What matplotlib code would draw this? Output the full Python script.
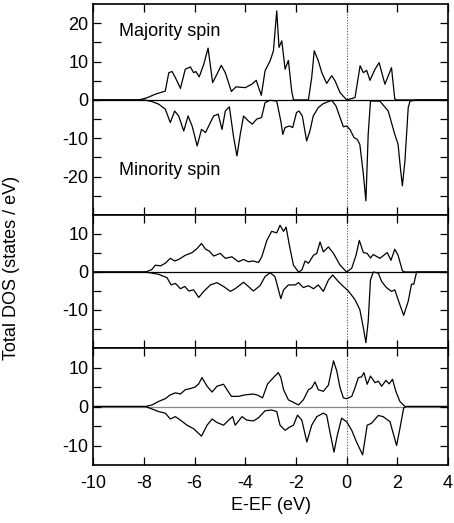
import matplotlib
matplotlib.use("Agg")
import matplotlib.pyplot as plt
from matplotlib.ticker import FixedLocator

plt.rcParams['font.family'] = ['Liberation Sans', 'DejaVu Sans']
plt.rcParams['axes.unicode_minus'] = False

# ---- data (energy E-EF in eV, DOS in states/eV) ----
p1_up_x = [-10, -8.2, -7.9, -7.55, -7.16, -7.02, -6.89, -6.76, -6.56, -6.37, -6.17, -6.04, -5.95, -5.82, -5.64,
           -5.47, -5.29, -5.12, -4.95, -4.79, -4.55, -4.37, -4.0, -3.74, -3.57, -3.37, -3.22, -3.02, -2.89, -2.76,
           -2.67, -2.56, -2.43, -2.3, -2.17, -2.1, -1.51, -1.38, -1.28, -1.12, -0.98, -0.79, -0.59, -0.46, -0.26,
           0, 0.33, 0.53, 0.66, 0.79, 0.92, 1.12, 1.28, 1.51, 1.77, 1.9, 1.97, 4]
p1_up_y = [0, 0, 0.5, 1.5, 2.3, 7.1, 7.4, 5.8, 3.0, 8.0, 8.6, 7.1, 7.4, 6.0, 9.3,
           13.5, 4.5, 6.7, 9.0, 7.1, 2.2, 3.4, 3.2, 4.1, 5.1, 1.2, 7.6, 10.2, 12.8, 23.2,
           13.7, 15.4, 8.0, 10.3, 2.3, 0, 0, 5.8, 12.8, 10.2, 7.1, 4.3, 6.3, 5.0, 1.9,
           0, 0.6, 8.9, 7.1, 7.7, 5.1, 8.0, 9.7, 4.1, 8.4, 0.2, 0, 0]

p1_dn_x = [-10, -8.0, -7.7, -7.42, -7.16, -6.96, -6.79, -6.63, -6.43, -6.26, -6.1, -5.9, -5.73, -5.57, -5.38,
           -5.25, -5.07, -4.92, -4.79, -4.63, -4.46, -4.33, -4.2, -4.07, -3.88, -3.72, -3.55, -3.36, -3.22, -3.02,
           -2.76, -2.6, -2.52, -2.43, -2.26, -2.13, -1.98, -1.88, -1.75, -1.58, -1.45, -1.32, -1.12, -0.93, -0.59,
           -0.42, -0.26, -0.13, 0, 0.13, 0.29, 0.42, 0.52, 0.66, 0.76, 0.85, 0.94, 1.31, 1.64, 1.9,
           2.03, 2.12, 2.2, 2.3, 2.43, 2.5, 2.8, 4]
p1_dn_y = [0, 0, -0.4, -1.1, -2.4, -5.9, -2.9, -4.2, -8.1, -4.2, -6.8, -12.0, -7.7, -8.5, -5.9,
           -4.2, -3.7, -7.7, -2.9, -1.8, -9.8, -14.6, -9.0, -4.2, -5.5, -6.3, -5.0, -4.6, -0.7, -0.1,
           -0.3, -5.5, -9.0, -7.2, -6.8, -7.2, -3.3, -2.9, -4.2, -10.7, -8.1, -4.2, -2.0, -1.0, -0.1,
           -1.6, -4.6, -7.0, -6.8, -7.7, -9.8, -10.3, -11.6, -19.4, -26.3, -9.0, -0.3, -0.3, -2.9, -9.0,
           -11.6, -17.7, -22.4, -15.9, -2.0, -0.3, 0, 0]

p2_up_x = [-10, -7.94, -7.7, -7.55, -7.35, -7.16, -6.96, -6.79, -6.63, -6.37, -6.1, -5.9, -5.73, -5.57, -5.42,
           -5.25, -4.99, -4.79, -4.53, -4.27, -4.07, -3.88, -3.68, -3.48, -3.35, -3.15, -2.96, -2.76, -2.63, -2.49,
           -2.39, -2.26, -2.1, -1.9, -1.77, -1.64, -1.51, -1.31, -1.18, -1.05, -0.92, -0.72, -0.52, -0.26, 0,
           0.2, 0.37, 0.5, 0.66, 0.81, 0.94, 1.05, 1.31, 1.6, 1.75, 1.9, 2.03, 2.2, 2.3, 4]
p2_up_y = [0, 0, 0.6, 1.8, 1.6, 2.3, 3.6, 2.9, 3.3, 4.4, 5.1, 6.2, 7.5, 6.0, 5.5,
           4.2, 4.9, 3.6, 4.0, 2.7, 3.3, 2.7, 2.9, 2.5, 4.0, 8.3, 10.7, 10.3, 12.3, 10.7,
           11.8, 7.0, 1.8, 0, 0.5, 2.9, 2.3, 4.4, 4.9, 7.9, 5.3, 6.6, 4.9, 1.8, 0,
           1.0, 4.4, 8.3, 5.1, 4.9, 3.7, 4.6, 3.6, 5.1, 3.1, 6.0, 4.4, 0.3, 0, 0]

p2_dn_x = [-10, -7.94, -7.42, -7.09, -6.93, -6.76, -6.56, -6.39, -6.23, -6.04, -5.84, -5.64, -5.38, -5.12, -4.86,
           -4.59, -4.4, -4.07, -3.88, -3.68, -3.42, -3.22, -3.02, -2.83, -2.69, -2.6, -2.49, -2.3, -2.03, -1.9,
           -1.71, -1.51, -1.31, -1.12, -0.92, -0.72, -0.55, -0.33, -0.13, 0.07, 0.33, 0.52, 0.66, 0.76, 0.85,
           0.94, 1.05, 1.25, 1.38, 1.57, 1.77, 1.9, 2.1, 2.25, 2.43, 2.56, 2.65, 2.76, 4]
p2_dn_y = [0, 0, -0.6, -1.5, -3.4, -3.0, -4.4, -3.8, -5.0, -4.7, -6.7, -5.1, -3.4, -2.8, -3.8,
           -5.1, -4.4, -2.7, -3.8, -5.0, -3.6, -1.2, -0.2, -1.2, -4.7, -7.0, -4.7, -3.4, -3.4, -2.8,
           -4.1, -3.6, -4.4, -3.4, -5.1, -2.1, -0.8, -2.5, -3.8, -5.0, -7.3, -9.9, -14.7, -18.6, -13.0,
           -2.1, 0, -0.3, -2.5, -4.1, -5.1, -4.7, -8.6, -11.4, -7.7, -3.2, -3.2, 0, 0]

p3_up_x = [-10, -7.94, -7.68, -7.42, -7.16, -6.96, -6.76, -6.56, -6.37, -6.17, -5.98, -5.84, -5.71, -5.51, -5.31,
           -5.12, -4.86, -4.55, -4.27, -4.0, -3.68, -3.51, -3.32, -3.12, -2.89, -2.7, -2.6, -2.49, -2.3, -1.9,
           -1.71, -1.51, -1.38, -1.25, -1.12, -0.92, -0.72, -0.52, -0.39, -0.26, -0.13, 0, 0.2, 0.33, 0.46,
           0.59, 0.68, 0.81, 0.94, 1.12, 1.25, 1.38, 1.55, 1.68, 1.81, 1.94, 2.1, 2.3, 4]
p3_up_y = [0, 0, 0.4, 1.3, 2.0, 3.0, 3.5, 3.2, 4.3, 4.6, 5.0, 5.8, 7.4, 5.2, 3.7,
           5.2, 5.7, 2.6, 2.6, 3.0, 3.2, 2.9, 2.2, 5.8, 7.4, 8.7, 7.5, 4.3, 1.7, 0.4,
           1.7, 4.3, 4.8, 6.3, 4.3, 3.9, 5.5, 11.7, 9.1, 4.8, 2.2, 2.0, 2.6, 4.8, 7.4,
           7.6, 8.7, 5.7, 7.8, 6.1, 6.5, 5.2, 6.7, 5.8, 7.0, 3.9, 1.3, 0, 0]

p3_dn_x = [-10, -7.94, -7.42, -7.16, -6.96, -6.76, -6.56, -6.3, -6.04, -5.73, -5.51, -5.31, -5.12, -4.86, -4.66,
           -4.5, -4.4, -4.13, -3.94, -3.68, -3.48, -3.22, -2.96, -2.76, -2.63, -2.43, -2.23, -2.1, -1.94, -1.77,
           -1.57, -1.38, -1.18, -0.92, -0.79, -0.66, -0.5, -0.37, -0.2, 0, 0.2, 0.39, 0.63, 0.81, 0.98,
           1.25, 1.44, 1.71, 1.97, 2.1, 2.25, 2.34, 4]
p3_dn_y = [0, 0, -1.3, -1.7, -3.2, -2.6, -3.5, -4.8, -5.7, -7.6, -4.8, -3.2, -4.1, -4.8, -3.5,
           -2.6, -4.8, -2.6, -3.5, -3.7, -2.9, -1.1, -0.9, -1.3, -4.8, -6.1, -5.2, -4.8, -2.2, -3.5,
           -9.1, -4.8, -2.6, -1.7, -2.2, -6.5, -11.7, -7.4, -3.0, -3.9, -6.1, -9.1, -12.4, -4.8, -4.3,
           -2.3, -2.6, -3.9, -10.0, -5.7, -0.4, 0, 0]

x_ticks = [-10, -8, -6, -4, -2, 0, 2, 4]
x_ticklabels = ['-10', '-8', '-6', '-4', '-2', '0', '2', '4']
panel_ylims = [(-30, 25), (-20, 15), (-15, 15)]
panel_major = [[-20, -10, 0, 10, 20], [-10, 0, 10], [-10, 0, 10]]
panel_minor = [[-25, -15, -5, 5, 15], [-15, -5, 5], [-5, 5]]
panel_series = [(p1_up_x, p1_up_y, p1_dn_x, p1_dn_y),
                (p2_up_x, p2_up_y, p2_dn_x, p2_dn_y),
                (p3_up_x, p3_up_y, p3_dn_x, p3_dn_y)]
zero_colors = ['black', 'black', '#888888']

# ---- figure ----
W, H = 454, 523
fig = plt.figure(figsize=(W / 100, H / 100), dpi=100)
left = 93.3 / W
width = (448 - 93.3) / W
edges = [4, 215, 348, 465]
axes = []
for i in range(3):
    top, bot = edges[i], edges[i + 1]
    ax = fig.add_axes([left, 1 - bot / H, width, (bot - top) / H])
    axes.append(ax)

fs = 13
for i, ax in enumerate(axes):
    ux, uy, dx, dy = panel_series[i]
    ax.axhline(0, color=zero_colors[i], lw=0.9, zorder=1)
    ax.axvline(0, color='#555555', lw=0.8, ls=(0, (1, 1.5)), zorder=1)
    ax.plot(ux, uy, color='black', lw=0.9, zorder=2)
    ax.plot(dx, dy, color='black', lw=0.9, zorder=2)
    ax.set_xlim(-10, 4)
    ax.set_ylim(*panel_ylims[i])
    ax.yaxis.set_major_locator(FixedLocator(panel_major[i]))
    ax.yaxis.set_minor_locator(FixedLocator(panel_minor[i]))
    ax.set_yticklabels([str(v) for v in panel_major[i]])
    ax.set_xticks(x_ticks)
    ax.tick_params(axis='both', which='both', direction='in', length=6, width=0.9,
                   top=True, right=True, labelsize=fs)
    if i < 2:
        ax.set_xticklabels([])
    else:
        ax.set_xticklabels(x_ticklabels)
        ax.tick_params(axis='x', pad=7)
    for s in ax.spines.values():
        s.set_linewidth(1.2)

axes[0].text(-9.0, 17.8, 'Majority spin', fontsize=fs, va='center', ha='left')
axes[0].text(-9.0, -18.4, 'Minority spin', fontsize=fs, va='center', ha='left')

axes[2].set_xlabel('E-EF (eV)', fontsize=fs, labelpad=4)
fig.text(12 / W, 1 - 268 / H, 'Total DOS (states / eV)', rotation=90,
         fontsize=fs, ha='center', va='center')

fig.savefig('out.png', dpi=100)
